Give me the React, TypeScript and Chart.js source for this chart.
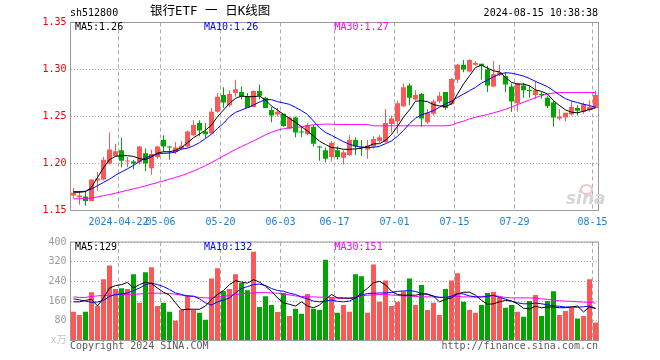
import React, { useEffect, useRef } from 'react';
import { Chart, registerables } from 'chart.js';

Chart.register(...registerables);

// ---------- data ----------
const DATES = [
  '2024-04-10','2024-04-11','2024-04-12','2024-04-15','2024-04-16','2024-04-17','2024-04-18','2024-04-19','2024-04-22','2024-04-23','2024-04-24','2024-04-25','2024-04-26','2024-04-29','2024-04-30',
  '2024-05-06','2024-05-07','2024-05-08','2024-05-09','2024-05-10','2024-05-13','2024-05-14','2024-05-15','2024-05-16','2024-05-17','2024-05-20','2024-05-21','2024-05-22','2024-05-23','2024-05-24','2024-05-27','2024-05-28','2024-05-29','2024-05-30','2024-05-31',
  '2024-06-03','2024-06-04','2024-06-05','2024-06-06','2024-06-07','2024-06-11','2024-06-12','2024-06-13','2024-06-14','2024-06-17','2024-06-18','2024-06-19','2024-06-20','2024-06-21','2024-06-24','2024-06-25','2024-06-26','2024-06-27','2024-06-28',
  '2024-07-01','2024-07-02','2024-07-03','2024-07-04','2024-07-05','2024-07-08','2024-07-09','2024-07-10','2024-07-11','2024-07-12','2024-07-15','2024-07-16','2024-07-17','2024-07-18','2024-07-19','2024-07-22','2024-07-23','2024-07-24','2024-07-25','2024-07-26','2024-07-29','2024-07-30','2024-07-31',
  '2024-08-01','2024-08-02','2024-08-05','2024-08-06','2024-08-07','2024-08-08','2024-08-09','2024-08-12','2024-08-13','2024-08-14','2024-08-15',
];
const AXIS_DATES = ['2024-04-22','2024-05-06','2024-05-20','2024-06-03','2024-06-17','2024-07-01','2024-07-15','2024-07-29','2024-08-15'];

const OPEN = [
  1.166,1.164,1.165,1.160,1.182,1.183,1.200,1.208,1.214,1.202,1.202,1.201,1.211,1.195,1.207,1.225,1.218,1.212,1.216,1.218,1.230,1.243,
  1.234,1.232,1.255,1.273,1.262,1.275,1.276,1.271,1.260,1.277,1.270,1.257,1.252,1.253,1.237,1.249,1.234,1.231,1.239,1.218,1.214,1.207,
  1.214,1.206,1.209,1.225,1.218,1.215,1.218,1.224,1.223,1.242,1.245,1.261,1.283,1.268,1.274,1.244,1.253,1.266,1.276,1.263,1.289,1.305,
  1.298,1.305,1.306,1.300,1.282,1.294,1.293,1.282,1.264,1.283,1.278,1.273,1.274,1.270,1.265,1.248,1.249,1.252,1.259,1.255,1.257,1.259,
];
const CLOSE = [
  1.169,1.166,1.160,1.183,1.184,1.204,1.215,1.213,1.203,1.203,1.200,1.218,1.200,1.210,1.218,1.218,1.217,1.217,1.219,1.234,1.241,1.235,
  1.231,1.255,1.271,1.265,1.274,1.279,1.271,1.259,1.277,1.272,1.259,1.251,1.255,1.240,1.249,1.233,1.233,1.241,1.221,1.217,1.205,1.222,
  1.207,1.212,1.225,1.218,1.217,1.219,1.226,1.228,1.243,1.248,1.264,1.281,1.270,1.273,1.248,1.254,1.266,1.272,1.259,1.290,1.305,1.300,
  1.310,1.307,1.304,1.283,1.295,1.297,1.284,1.266,1.285,1.278,1.277,1.278,1.273,1.261,1.249,1.250,1.254,1.260,1.256,1.263,1.260,1.273,
];
const HIGH = [
  1.174,1.171,1.170,1.183,1.191,1.207,1.233,1.221,1.227,1.207,1.204,1.219,1.216,1.215,1.219,1.230,1.218,1.223,1.224,1.235,1.246,1.246,
  1.243,1.259,1.275,1.281,1.278,1.289,1.282,1.275,1.278,1.284,1.271,1.260,1.259,1.253,1.250,1.250,1.239,1.243,1.241,1.219,1.217,1.224,
  1.218,1.214,1.230,1.228,1.225,1.225,1.229,1.230,1.258,1.251,1.267,1.285,1.285,1.278,1.275,1.258,1.268,1.276,1.276,1.291,1.306,1.310,
  1.311,1.309,1.306,1.304,1.309,1.305,1.297,1.285,1.286,1.286,1.283,1.288,1.276,1.272,1.267,1.258,1.254,1.267,1.262,1.265,1.267,1.277,
];
const LOW = [
  1.163,1.156,1.155,1.160,1.171,1.182,1.199,1.208,1.196,1.196,1.194,1.199,1.192,1.188,1.205,1.212,1.204,1.210,1.214,1.217,1.229,1.229,
  1.227,1.231,1.254,1.259,1.260,1.271,1.268,1.259,1.260,1.268,1.259,1.244,1.250,1.239,1.237,1.228,1.228,1.230,1.218,1.203,1.201,1.202,
  1.204,1.199,1.208,1.209,1.208,1.205,1.216,1.222,1.222,1.233,1.232,1.260,1.262,1.267,1.239,1.242,1.251,1.264,1.257,1.262,1.286,1.297,
  1.297,1.304,1.289,1.276,1.281,1.293,1.276,1.255,1.255,1.270,1.270,1.269,1.269,1.259,1.239,1.246,1.245,1.251,1.251,1.253,1.255,1.259,
];
const MA5 = [
  1.1694,1.1694,1.1701,1.1747,1.1851,1.1955,1.2042,1.2076,1.2083,1.2083,1.2076,1.2052,1.2042,1.2069,1.2111,1.2125,1.2125,1.2139,1.2170,1.2222,1.2274,1.2313,
  1.2355,1.2409,1.2498,1.2569,1.2640,1.2693,1.2718,1.2711,1.2711,1.2718,1.2675,1.2611,1.2569,1.2522,1.2480,1.2437,1.2391,1.2345,1.2291,1.2238,1.2202,1.2170,
  1.2165,1.2151,1.2151,1.2155,1.2162,1.2183,1.2208,1.2211,1.2246,1.2310,1.2394,1.2493,1.2570,1.2662,1.2669,1.2658,1.2627,1.2613,1.2606,1.2634,1.2739,1.2845,
  1.2933,1.3021,1.3046,1.3014,1.2986,1.2975,1.2915,1.2863,1.2845,1.2845,1.2827,1.2782,1.2768,1.2739,1.2669,1.2616,1.2570,1.2546,1.2539,1.2556,1.2574,1.2592,
];
const MA10 = [
  1.1701,1.1701,1.1705,1.1729,1.1764,1.1799,1.1833,1.1875,1.1910,1.1944,1.1979,1.2024,1.2059,1.2083,1.2101,1.2108,1.2111,1.2122,1.2153,1.2163,1.2188,1.2222,
  1.2266,1.2312,1.2373,1.2427,1.2498,1.2544,1.2569,1.2594,1.2622,1.2654,1.2679,1.2679,1.2658,1.2644,1.2629,1.2597,1.2562,1.2522,1.2451,1.2380,1.2330,1.2300,
  1.2265,1.2232,1.2205,1.2185,1.2173,1.2169,1.2173,1.2183,1.2211,1.2240,1.2290,1.2352,1.2423,1.2482,1.2518,1.2539,1.2563,1.2599,1.2634,1.2662,1.2704,1.2739,
  1.2775,1.2810,1.2856,1.2887,1.2923,1.2951,1.2965,1.2961,1.2947,1.2930,1.2905,1.2873,1.2845,1.2817,1.2775,1.2729,1.2690,1.2665,1.2648,1.2630,1.2616,1.2599,
];
const MA30 = [
  1.1625,1.1625,1.1628,1.1632,1.1645,1.1658,1.1670,1.1684,1.1700,1.1715,1.1730,1.1745,1.1762,1.1780,1.1797,1.1815,1.1833,1.1852,1.1872,1.1895,1.1920,1.1948,
  1.1978,1.2010,1.2045,1.2080,1.2115,1.2150,1.2180,1.2210,1.2240,1.2272,1.2305,1.2332,1.2355,1.2370,1.2380,1.2385,1.2390,1.2402,1.2412,1.2417,1.2419,1.2419,
  1.2415,1.2415,1.2415,1.2415,1.2415,1.2415,1.2401,1.2401,1.2401,1.2401,1.2401,1.2401,1.2401,1.2401,1.2401,1.2401,1.2401,1.2401,1.2401,1.2408,1.2433,1.2450,
  1.2475,1.2493,1.2507,1.2521,1.2539,1.2556,1.2577,1.2599,1.2627,1.2651,1.2676,1.2701,1.2722,1.2739,1.2750,1.2755,1.2755,1.2755,1.2755,1.2755,1.2755,1.2755,
];
const VOLUME = [
  117,104,117,196,140,249,305,209,212,209,269,153,277,297,140,153,117,80,124,184,124,113,
  84,252,293,200,209,269,233,204,360,136,180,144,116,193,100,129,109,189,129,124,328,176,
  113,144,117,269,261,113,309,157,244,140,157,200,252,144,225,124,153,104,209,244,273,157,
  124,113,144,193,197,176,133,144,117,96,160,185,100,160,200,104,120,132,89,100,249,73,
];
const VOL_MA5 = [
  157,157,163,167,140,173,213,223,227,236,213,227,237,231,213,196,184,153,124,127,127,127,
  140,167,187,203,227,243,237,233,247,237,220,200,173,153,147,140,157,140,133,144,167,187,
  173,173,171,173,193,212,235,240,226,200,187,184,184,184,189,189,180,157,167,173,189,196,
  196,184,163,147,149,157,163,160,149,131,128,139,133,136,136,133,133,136,140,116,136,131,
];
const VOL_MA10 = [
  169,165,160,155,156,163,179,187,189,193,203,213,227,233,227,219,207,193,187,181,180,169,
  153,144,157,164,173,193,211,219,227,229,223,211,203,200,192,187,176,169,160,157,160,164,
  159,157,160,173,184,191,192,193,193,195,200,201,203,199,191,187,180,175,175,180,191,189,
  181,177,176,180,183,175,168,160,153,149,149,152,149,145,141,139,136,136,135,137,140,129,
];
const VOL_MA30 = [
  177,175,175,179,181,183,184,185,187,187,188,189,191,192,192,192,191,188,184,180,179,175,
  173,173,176,179,183,187,189,192,193,195,195,193,192,189,185,181,179,177,177,176,176,175,
  172,171,173,177,181,184,185,187,187,185,183,181,180,179,177,177,177,176,175,177,179,177,
  177,177,179,180,183,179,175,173,173,173,173,172,169,167,164,161,160,159,157,156,155,152,
];
const PRICE_TICKS = [1.15, 1.2, 1.25, 1.3, 1.35];
const VOLUME_TICKS = [0, 80, 160, 240, 320, 400];

// ---------- styles ----------
const UP = '#fb5858';
const DOWN = '#00a600';
const MONO = "'DejaVu Sans Mono', 'Noto Sans CJK SC', monospace";
const GRID = '#acacac';
const FRAME = '#9a9a9a';

const CANDLE_COLORS = CLOSE.map((c, i) => (c >= OPEN[i] ? UP : DOWN));
const AXIS_IDX = AXIS_DATES.map((d) => DATES.indexOf(d));

const dateGridColor = (ctx: any) =>
  ctx.type === 'tick' && AXIS_IDX.includes(ctx.index) ? GRID : 'rgba(0,0,0,0)';

const framePlugin = {
  id: 'frame',
  afterDraw(chart: any) {
    const { ctx, chartArea } = chart;
    const { left, top, right, bottom } = chartArea;
    ctx.save();
    ctx.strokeStyle = FRAME;
    ctx.lineWidth = 1;
    ctx.strokeRect(left, top, right - left, bottom - top);
    ctx.restore();
  },
};

const lineDs = (label: string, data: number[], color: string, order: number) => ({
  type: 'line' as const,
  label,
  data,
  borderColor: color,
  borderWidth: 1,
  pointRadius: 0,
  fill: false,
  tension: 0,
  order,
});

const xScale = (showLabels: boolean, height: number) => ({
  type: 'category' as const,
  offset: true,
  grid: { offset: true, drawTicks: false, color: dateGridColor, lineWidth: 1 },
  border: { display: false, dash: [4, 3] },
  ticks: {
    display: showLabels,
    autoSkip: false,
    maxRotation: 0,
    minRotation: 0,
    padding: 6,
    labelOffset: -3,
    color: '#1c7fd6',
    font: { family: MONO, size: 10 },
    callback: (_v: any, index: number) => {
      const k = AXIS_DATES.indexOf(DATES[index]);
      if (k < 0) return '';
      return k === 0 ? DATES[index] : DATES[index].slice(5);
    },
  },
  afterFit: (s: any) => {
    s.height = height;
  },
});

function priceConfig(): any {
  return {
    type: 'bar',
    data: {
      labels: DATES,
      datasets: [
        lineDs('MA5', MA5, '#000000', 0),
        lineDs('MA10', MA10, '#0000ff', 0),
        lineDs('MA30', MA30, '#ff00ff', 0),
        {
          type: 'bar',
          label: 'body',
          data: OPEN.map((o, i) => [o, CLOSE[i]]),
          backgroundColor: CANDLE_COLORS,
          barThickness: 5,
          minBarLength: 1,
          grouped: false,
          borderWidth: 0,
          inflateAmount: 0,
          order: 2,
        },
        {
          type: 'bar',
          label: 'wick',
          data: LOW.map((l, i) => [l, HIGH[i]]),
          backgroundColor: CANDLE_COLORS,
          barThickness: 1,
          grouped: false,
          borderWidth: 0,
          inflateAmount: 0,
          order: 3,
        },
      ],
    },
    options: {
      responsive: false,
      animation: false,
      devicePixelRatio: 1,
      events: [],
      layout: { padding: { left: 0, right: 61.5, top: 22.5, bottom: 0 } },
      plugins: { legend: { display: false }, tooltip: { enabled: false } },
      scales: {
        x: xScale(true, 21.5),
        y: {
          type: 'linear',
          min: PRICE_TICKS[0],
          max: PRICE_TICKS[PRICE_TICKS.length - 1],
          afterBuildTicks: (s: any) => {
            s.ticks = PRICE_TICKS.map((value) => ({ value }));
          },
          grid: { drawTicks: false, color: GRID, lineWidth: 1 },
          border: { display: false, dash: [1, 2] },
          ticks: {
            padding: 4,
            color: '#ea0000',
            font: { family: MONO, size: 10 },
            callback: (v: any) => Number(v).toFixed(2),
          },
          afterFit: (s: any) => {
            s.width = 70.5;
          },
        },
      },
    },
    plugins: [framePlugin],
  };
}

function volumeConfig(): any {
  return {
    type: 'bar',
    data: {
      labels: DATES,
      datasets: [
        lineDs('MA5', VOL_MA5, '#000000', 0),
        lineDs('MA10', VOL_MA10, '#0000ff', 0),
        lineDs('MA30', VOL_MA30, '#ff00ff', 0),
        {
          type: 'bar',
          label: 'volume',
          data: VOLUME,
          backgroundColor: CANDLE_COLORS,
          barThickness: 5,
          grouped: false,
          borderWidth: 0,
          inflateAmount: 0,
          order: 2,
        },
      ],
    },
    options: {
      responsive: false,
      animation: false,
      devicePixelRatio: 1,
      events: [],
      layout: { padding: { left: 0, right: 61.5, top: 8.5, bottom: 0 } },
      plugins: { legend: { display: false }, tooltip: { enabled: false } },
      scales: {
        x: xScale(false, 19.5),
        y: {
          type: 'linear',
          min: VOLUME_TICKS[0],
          max: VOLUME_TICKS[VOLUME_TICKS.length - 1],
          afterBuildTicks: (s: any) => {
            s.ticks = VOLUME_TICKS.map((value) => ({ value }));
          },
          grid: { drawTicks: false, color: GRID, lineWidth: 1 },
          border: { display: false, dash: [1, 2] },
          ticks: {
            padding: 4,
            color: (ctx: any) => (ctx.tick && ctx.tick.value === 0 ? '#c4c4c4' : '#9a9a9a'),
            font: { family: MONO, size: 10 },
            callback: (v: any) => (Number(v) === 0 ? 'x万' : String(v)),
          },
          afterFit: (s: any) => {
            s.width = 70.5;
          },
        },
      },
    },
    plugins: [framePlugin],
  };
}

// ---------- text helpers ----------
function Txt(props: { x: number; base: number; color?: string; right?: boolean; children: any; size?: number; family?: string }) {
  const size = props.size ?? 10;
  const style: any = {
    position: 'absolute',
    top: props.base - size * 0.846,
    font: `${size}px ${props.family ?? MONO}`,
    lineHeight: `${size}px`,
    color: props.color ?? '#000',
    whiteSpace: 'pre',
    zIndex: 2,
  };
  if (props.right) style.right = 660 - props.x;
  else style.left = props.x;
  return <span style={style}>{props.children}</span>;
}

export default function App() {
  const priceRef = useRef<HTMLCanvasElement>(null);
  const volRef = useRef<HTMLCanvasElement>(null);

  useEffect(() => {
    const pc = new Chart(priceRef.current as HTMLCanvasElement, priceConfig());
    const vc = new Chart(volRef.current as HTMLCanvasElement, volumeConfig());
    return () => {
      pc.destroy();
      vc.destroy();
    };
  }, []);

  return (
    <div style={{ position: 'fixed', left: 0, top: 0, width: 660, height: 360, background: '#fff', overflow: 'hidden' }}>
      <canvas ref={priceRef} width={660} height={232} style={{ position: 'absolute', left: 0, top: 0, width: 660, height: 232 }} />
      <canvas ref={volRef} width={660} height={128} style={{ position: 'absolute', left: 0, top: 232, width: 660, height: 128 }} />

      <Txt x={70} base={16.7}>sh512800</Txt>
      <Txt x={150} base={16} size={12.5}>银行ETF 一 日K线图</Txt>
      <Txt x={598} base={16.7} right>2024-08-15 10:38:38</Txt>

      <Txt x={75} base={30.3}>MA5:1.26</Txt>
      <Txt x={204} base={30.3} color="#0000ff">MA10:1.26</Txt>
      <Txt x={334.5} base={30.3} color="#ff00ff">MA30:1.27</Txt>

      <Txt x={75} base={250}>MA5:129</Txt>
      <Txt x={204} base={250} color="#0000ff">MA10:132</Txt>
      <Txt x={334.5} base={250} color="#ff00ff">MA30:151</Txt>

      <Txt x={70} base={349} color="#5a5a5a">Copyright 2024 SINA.COM</Txt>
      <Txt x={598} base={349} color="#5a5a5a" right>http://finance.sina.com.cn</Txt>

      <span
        style={{
          position: 'absolute',
          left: 566,
          top: 190,
          font: "italic bold 17px 'DejaVu Sans', sans-serif",
          lineHeight: '17px',
          color: '#d6d6d6',
          zIndex: 1,
        }}
      >
        sina
      </span>
      <span
        style={{
          position: 'absolute',
          left: 580,
          top: 184,
          width: 9,
          height: 7,
          borderRadius: '50%',
          border: '2px solid #f4c4c4',
          zIndex: 1,
        }}
      />
    </div>
  );
}
